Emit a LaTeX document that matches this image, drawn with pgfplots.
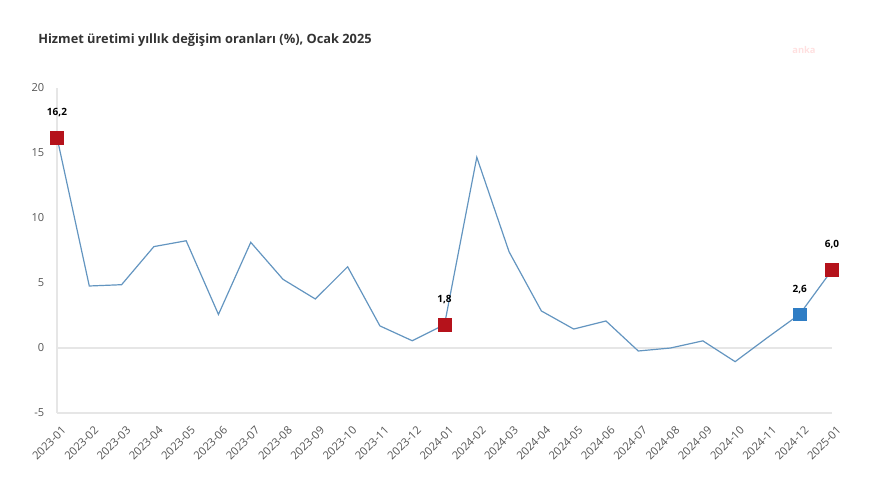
\documentclass[border=0pt]{standalone}
\usepackage{pgfplots}
\pgfplotsset{compat=1.18}
\usepackage{fontspec}
\setmainfont{Open Sans}
\definecolor{linec}{HTML}{6395C0}
\definecolor{redm}{HTML}{B5121B}
\definecolor{bluem}{HTML}{2F7DC4}
\definecolor{gridc}{HTML}{E6E6E6}
\definecolor{tickc}{HTML}{555555}
\definecolor{titlec}{HTML}{333333}
\begin{document}
\begin{tikzpicture}
\useasboundingbox (0,0) rectangle (652.5pt,372.75pt);
\node[anchor=west, font=\fontsize{9.6pt}{11pt}\selectfont\bfseries, text=titlec, inner sep=0pt] at (28.5pt,342.75pt) {Hizmet üretimi yıllık değişim oranları (\%), Ocak 2025};
\node[anchor=center, font=\fontsize{7pt}{8pt}\selectfont\bfseries, text=red!12, inner sep=0pt] at (603pt,335pt) {anka};
\begin{axis}[
  at={(42.75pt,63pt)}, anchor=south west,
  scale only axis, width=581.25pt, height=243.75pt,
  xmin=0, xmax=24, ymin=-5, ymax=20,
  axis x line*=bottom, axis y line*=left,
  axis line style={gridc, line width=0.8pt},
  every outer x axis line/.append style={-}, every outer y axis line/.append style={-},
  major tick length=0pt,
  ytick={-5,0,5,10,15,20},
  extra y ticks={0}, extra y tick labels={}, extra y tick style={grid=major, major grid style={gridc, line width=0.8pt}},
  xtick={0,...,24},
  xticklabels={2023-01,2023-02,2023-03,2023-04,2023-05,2023-06,2023-07,2023-08,2023-09,2023-10,2023-11,2023-12,2024-01,2024-02,2024-03,2024-04,2024-05,2024-06,2024-07,2024-08,2024-09,2024-10,2024-11,2024-12,2025-01},
  xticklabel style={xshift=3pt, yshift=-9pt, rotate=45, anchor=north east, font=\fontsize{8.4pt}{9pt}\selectfont, text=tickc, inner sep=0pt},
  yticklabel style={font=\fontsize{8.3pt}{9pt}\selectfont, text=tickc, xshift=-6pt},
  /pgf/number format/assume math mode=true,
  clip=false,
]
\addplot[linec, line width=0.9pt, mark=none] coordinates {
(0,16.2) (1,4.77) (2,4.87) (3,7.8) (4,8.25) (5,2.58) (6,8.13) (7,5.28) (8,3.77) (9,6.25) (10,1.7) (11,0.56) (12,1.8) (13,14.67) (14,7.4) (15,2.85) (16,1.46) (17,2.08) (18,-0.23) (19,0.0) (20,0.55) (21,-1.05) (22,0.8) (23,2.6) (24,6.0)
};
\addplot[only marks, mark=square*, mark size=4.8pt, mark options={fill=redm, draw=redm},
  point meta=explicit symbolic, nodes near coords,
  every node near coord/.append style={anchor=center, yshift=18.75pt, font=\fontsize{7.5pt}{8pt}\selectfont\bfseries, text=black}]
 coordinates {(0,16.2) [16,2] (12,1.8) [1,8] (24,6.0) [6,0]};
\addplot[only marks, mark=square*, mark size=4.8pt, mark options={fill=bluem, draw=bluem},
  point meta=explicit symbolic, nodes near coords,
  every node near coord/.append style={anchor=center, yshift=18.75pt, font=\fontsize{7.5pt}{8pt}\selectfont\bfseries, text=black}]
 coordinates {(23,2.6) [2,6]};
\end{axis}
\end{tikzpicture}
\end{document}
